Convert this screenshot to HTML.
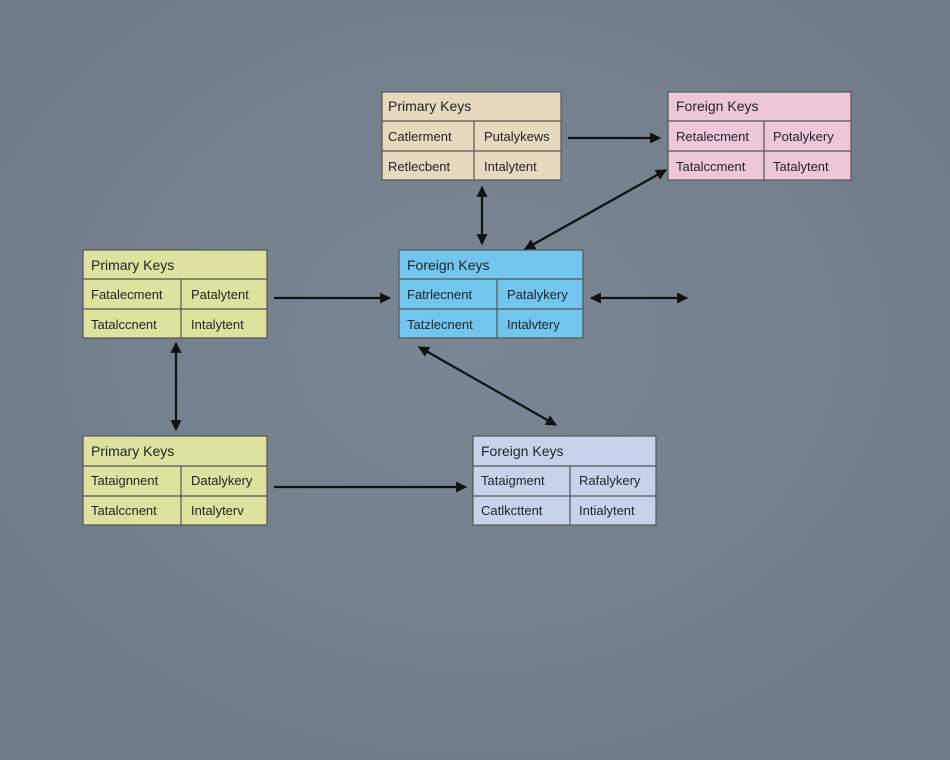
<!DOCTYPE html>
<html><head><meta charset="utf-8"><style>
html,body{margin:0;padding:0;width:950px;height:760px;overflow:hidden;background:#737f8c;}
svg{display:block}
text{font-family:"Liberation Sans",sans-serif;font-size:13px;fill:#1e2328;}
.h{font-size:14px;}
</style></head><body>
<svg width="950" height="760" viewBox="0 0 950 760">
<defs>
<radialGradient id="bg" cx="50%" cy="45%" r="70%"><stop offset="0" stop-color="#7a8693"/><stop offset="1" stop-color="#6f7a87"/></radialGradient>
<marker id="ar" viewBox="0 0 10 10" refX="9" refY="5" markerWidth="12" markerHeight="11" markerUnits="userSpaceOnUse" orient="auto-start-reverse"><path d="M0,0 L10,5 L0,10 z" fill="#111"/></marker>
</defs>
<rect width="950" height="760" fill="url(#bg)"/>
<g stroke="#555" stroke-width="1.2">
<rect x="382" y="92" width="179" height="88" fill="#e6d9bd"/>
<line x1="382" y1="121" x2="561" y2="121"/><line x1="382" y1="151" x2="561" y2="151"/><line x1="474" y1="121" x2="474" y2="180"/>
<rect x="668" y="92" width="183" height="88" fill="#eec6da"/>
<line x1="668" y1="121" x2="851" y2="121"/><line x1="668" y1="151" x2="851" y2="151"/><line x1="764" y1="121" x2="764" y2="180"/>
<rect x="399" y="250" width="184" height="88" fill="#72c6ee"/>
<line x1="399" y1="279" x2="583" y2="279"/><line x1="399" y1="309" x2="583" y2="309"/><line x1="497" y1="279" x2="497" y2="338"/>
<rect x="83" y="250" width="184" height="88" fill="#dde29f"/>
<line x1="83" y1="279" x2="267" y2="279"/><line x1="83" y1="309" x2="267" y2="309"/><line x1="181" y1="279" x2="181" y2="338"/>
<rect x="83" y="436" width="184" height="89" fill="#dde29f"/>
<line x1="83" y1="466" x2="267" y2="466"/><line x1="83" y1="496" x2="267" y2="496"/><line x1="181" y1="466" x2="181" y2="525"/>
<rect x="473" y="436" width="183" height="89" fill="#c6d3ea"/>
<line x1="473" y1="466" x2="656" y2="466"/><line x1="473" y1="496" x2="656" y2="496"/><line x1="570" y1="466" x2="570" y2="525"/>
</g>
<g stroke="#111" stroke-width="2.2" fill="none">
<line x1="568" y1="138" x2="660" y2="138" marker-end="url(#ar)"/>
<line x1="482" y1="187" x2="482" y2="244" marker-start="url(#ar)" marker-end="url(#ar)"/>
<line x1="666" y1="170" x2="525" y2="249" marker-start="url(#ar)" marker-end="url(#ar)"/>
<line x1="274" y1="298" x2="390" y2="298" marker-end="url(#ar)"/>
<line x1="591" y1="298" x2="687" y2="298" marker-start="url(#ar)" marker-end="url(#ar)"/>
<line x1="176" y1="343" x2="176" y2="430" marker-start="url(#ar)" marker-end="url(#ar)"/>
<line x1="419" y1="347" x2="556" y2="425" marker-start="url(#ar)" marker-end="url(#ar)"/>
<line x1="274" y1="487" x2="466" y2="487" marker-end="url(#ar)"/>
</g>
<text class="h" x="388" y="111">Primary Keys</text>
<text x="388" y="141">Catlerment</text><text x="484" y="141">Putalykews</text>
<text x="388" y="171">Retlecbent</text><text x="484" y="171">Intalytent</text>
<text class="h" x="676" y="111">Foreign Keys</text>
<text x="676" y="141">Retalecment</text><text x="773" y="141">Potalykery</text>
<text x="676" y="171">Tatalccment</text><text x="773" y="171">Tatalytent</text>
<text class="h" x="407" y="270">Foreign Keys</text>
<text x="407" y="299">Fatrlecnent</text><text x="507" y="299">Patalykery</text>
<text x="407" y="329">Tatzlecnent</text><text x="507" y="329">Intalvtery</text>
<text class="h" x="91" y="270">Primary Keys</text>
<text x="91" y="299">Fatalecment</text><text x="191" y="299">Patalytent</text>
<text x="91" y="329">Tatalccnent</text><text x="191" y="329">Intalytent</text>
<text class="h" x="91" y="456">Primary Keys</text>
<text x="91" y="485">Tataignnent</text><text x="191" y="485">Datalykery</text>
<text x="91" y="515">Tatalccnent</text><text x="191" y="515">Intalyterv</text>
<text class="h" x="481" y="456">Foreign Keys</text>
<text x="481" y="485">Tataigment</text><text x="579" y="485">Rafalykery</text>
<text x="481" y="515">Catlkcttent</text><text x="579" y="515">Intialytent</text>
</svg>
</body></html>
